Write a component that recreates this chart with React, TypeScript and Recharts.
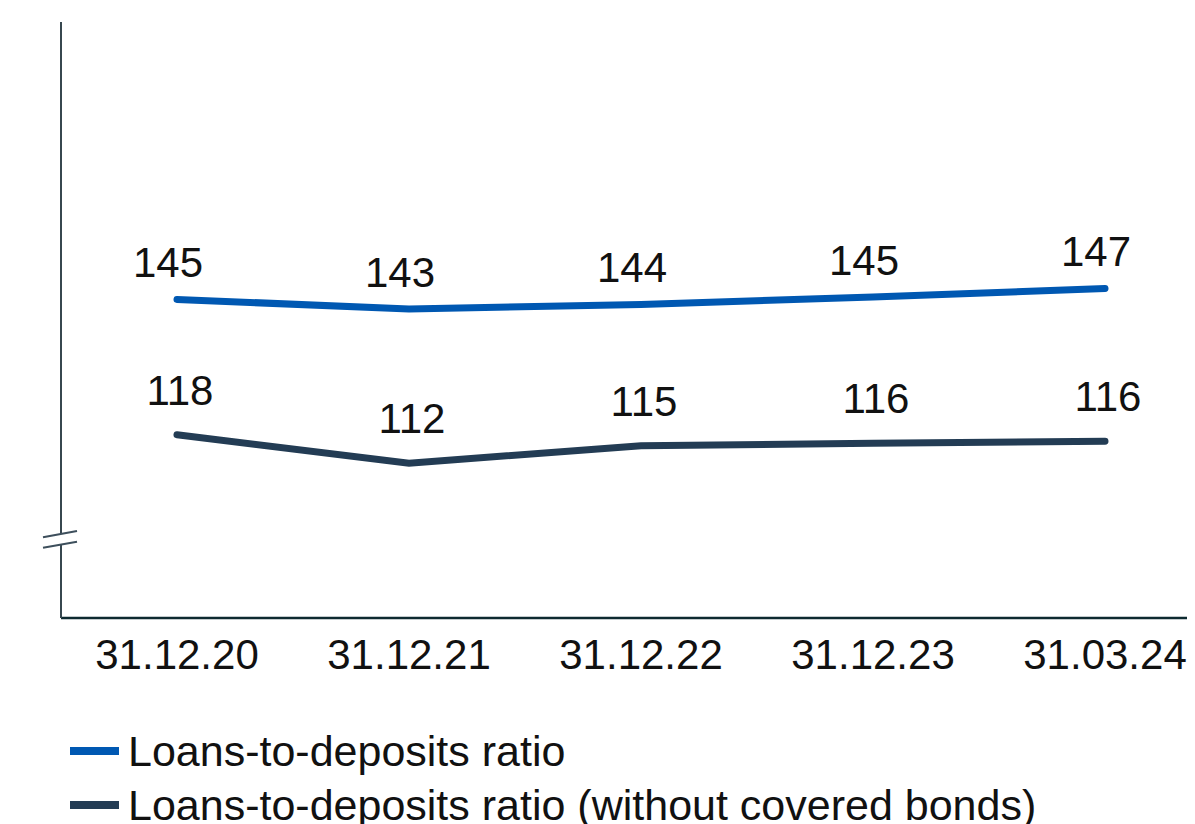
import { Legend, Line, LineChart, XAxis, YAxis } from 'recharts';

const dates = ['31.12.20', '31.12.21', '31.12.22', '31.12.23', '31.03.24'];
const ratio = [144.6, 142.7, 143.6, 145.1, 146.8];
const ratioNoCovered = [117.6, 111.9, 115.4, 115.9, 116.3];

const seriesNames = ['Loans-to-deposits ratio', 'Loans-to-deposits ratio (without covered bonds)'];

const FONT = '"Liberation Sans", Arial, sans-serif';
const BLUE = '#0058b2';
const NAVY = '#233c54';

const data = dates.map((d, i) => ({
  date: d,
  ratio: ratio[i],
  noCovered: ratioNoCovered[i],
}));

function makeLabel(dx: number, lift: number) {
  return (props: any) => {
    const x = props.x ?? props.viewBox?.x;
    const y = props.y ?? props.viewBox?.y;
    if (x == null || y == null) return null;
    return (
      <text
        x={x + dx}
        y={y - lift}
        textAnchor="middle"
        fontSize={42}
        fontFamily={FONT}
        fill="#111"
      >
        {Math.round(Number(props.value))}
      </text>
    );
  };
}

function LegendBox() {
  const rows = [
    { name: seriesNames[0], color: BLUE },
    { name: seriesNames[1], color: NAVY },
  ];
  return (
    <div style={{ fontFamily: FONT, fontSize: 43, color: '#111' }}>
      {rows.map((r) => (
        <div key={r.name} style={{ height: 54, display: 'flex', alignItems: 'center', whiteSpace: 'nowrap' }}>
          <span style={{ display: 'inline-block', width: 49, height: 8, background: r.color, marginLeft: 62, marginRight: 9 }} />
          <span style={{ lineHeight: '54px' }}>{r.name}</span>
        </div>
      ))}
    </div>
  );
}

export default function App() {
  return (
    <div style={{ position: 'relative', width: 1187, height: 816, overflow: 'hidden' }}>
      <LineChart
        width={1213}
        height={816}
        data={data}
        margin={{ top: 14, right: 0, bottom: 68, left: 52 }}
      >
        <XAxis
          dataKey="date"
          scale="band"
          axisLine={{ stroke: '#0d2a30', strokeWidth: 2.5 }}
          tickLine={false}
          tickSize={0}
          tickMargin={21}
          tick={{ fontSize: 42, fontFamily: FONT, fill: '#111' }}
          interval={0}
        />
        <YAxis
          domain={[81, 200]}
          allowDataOverflow
          width={1}
          tick={false}
          tickLine={false}
          axisLine={{ stroke: '#37474f', strokeWidth: 2 }}
        />
        <Legend
          verticalAlign="bottom"
          layout="horizontal"
          content={() => <LegendBox />}
          wrapperStyle={{ top: 716, left: 0, bottom: 'auto', width: 1100, height: 108 }}
        />
        <Line
          dataKey="ratio"
          name={seriesNames[0]}
          stroke={BLUE}
          strokeWidth={7}
          strokeLinecap="round"
          dot={false}
          activeDot={false}
          isAnimationActive={false}
          label={makeLabel(-9, 22)}
        />
        <Line
          dataKey="noCovered"
          name={seriesNames[1]}
          stroke={NAVY}
          strokeWidth={7}
          strokeLinecap="round"
          dot={false}
          activeDot={false}
          isAnimationActive={false}
          label={makeLabel(3, 30)}
        />
      </LineChart>
      <svg
        width={60}
        height={40}
        style={{ position: 'absolute', left: 30, top: 515, pointerEvents: 'none' }}
      >
        <polygon points="5,14.3 39,8 39,18.7 5,24.7" fill="#fff" />
        <line x1={5} y1={14.3} x2={39} y2={8} stroke="#3d4f5c" strokeWidth={2} />
        <line x1={5} y1={24.7} x2={39} y2={18.7} stroke="#3d4f5c" strokeWidth={2} />
      </svg>
    </div>
  );
}
